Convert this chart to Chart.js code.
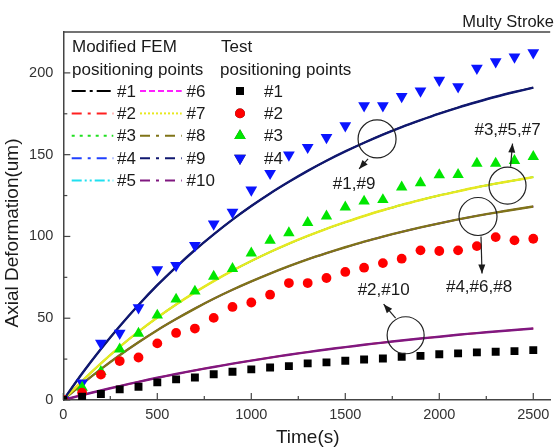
<!DOCTYPE html>
<html><head><meta charset="utf-8">
<script src="https://cdn.jsdelivr.net/npm/chart.js@4.4.0/dist/chart.umd.min.js"></script>
<style>html,body{margin:0;padding:0;background:#fff;}</style>
</head><body>
<canvas id="c" width="557" height="448"></canvas>
<script>
// ---- data ----
const times = [0,100,200,300,400,500,600,700,800,900,1000,1100,1200,1300,1400,1500,1600,1700,1800,1900,2000,2100,2200,2300,2400,2500];
const test1 = [0,2.0,3.7,6.5,8.1,10.8,12.6,13.8,15.7,17.3,18.7,19.9,20.7,22.4,23.0,24.0,24.8,25.4,26.4,27.0,28.0,28.5,29.1,29.5,29.9,30.5];
const test2 = [0,4.5,15.5,23.8,26.0,34.6,41.0,43.7,50.2,56.9,59.6,64.4,71.5,71.5,74.6,78.3,80.9,83.7,86.4,91.5,91.1,91.5,94.1,99.6,97.6,98.6];
const test3 = [0,7.7,17.3,31.1,40.7,51.8,61.6,66.5,75.6,80.3,89.8,97.6,102.2,108.4,112.4,117.9,121.5,122.4,130.1,132.7,137.6,137.8,144.7,144.7,146.3,148.8];
const test4 = [0,10.5,34.8,40.8,56.5,79.7,82.3,94.5,107.7,114.8,128.5,138.6,149.8,154.5,160.6,167.7,179.9,179.9,185.6,189.0,195.5,191.6,202.9,206.9,209.8,212.4];
// FEM curves (overlapping groups)
const femA = [0,16.2,31.2,45.1,58.1,70.2,81.3,91.7,101.3,110.3,118.6,126.3,133.4,140.1,146.3,152.0,157.3,162.3,166.9,171.1,175.1,178.8,182.2,185.4,188.3,191.0]; // #1,#9
const femB = [0,3.0,5.8,8.5,11.1,13.6,15.9,18.1,20.2,22.2,24.1,25.9,27.7,29.3,30.9,32.3,33.8,35.1,36.4,37.6,38.7,39.9,40.9,41.9,42.8,43.7]; // #2,#10
const femC = [0,11.6,22.4,32.5,41.8,50.4,58.4,65.8,72.7,79.1,85.0,90.5,95.6,100.3,104.7,108.7,112.5,116.0,119.3,122.3,125.1,127.6,130.1,132.3,134.3,136.3]; // #3,#5,#7
const femD = [0,9.8,18.9,27.4,35.3,42.7,49.5,55.9,61.9,67.4,72.5,77.3,81.8,86.0,89.8,93.4,96.8,99.9,102.8,105.5,108.0,110.4,112.6,114.6,116.5,118.3]; // #4,#6,#8
const xTicks = [0,500,1000,1500,2000,2500];
const xMinor = [250,750,1250,1750,2250];
const yTicks = [0,50,100,150,200];
const yMinor = [25,75,125,175];
const femNames = ['#1','#2','#3','#4','#5','#6','#7','#8','#9','#10'];
const femColors = ['#000000','#ff2020','#20e020','#2040ff','#20e0f0','#ff20ff','#e8e820','#807418','#101870','#801880'];
const femDash = [[14,4,3,4],[10,6,3,6],[3,5],[10,6,3,6],[10,3,2,3,2,3],[6,3],[2,2],[10,6,3,6],[10,6,3,6],[10,6,3,6]];
const femData = [femA,femB,femC,femD,femC,femD,femC,femD,femA,femB];
const testNames = ['#1','#2','#3','#4'];

const pts = arr => times.map((t,i)=>({x:t,y:arr[i]}));

const markers = [
  {label:'T#1',data:pts(test1),pointStyle:'rect',pointRadius:5.6,backgroundColor:'#000',borderColor:'#000',borderWidth:0,showLine:false},
  {label:'T#2',data:pts(test2),pointStyle:'circle',pointRadius:4.9,backgroundColor:'#ff0000',borderColor:'#ff0000',borderWidth:0,showLine:false},
  {label:'T#3',data:pts(test3),pointStyle:'triangle',pointRadius:6.6,backgroundColor:'#00e600',borderColor:'#00e600',borderWidth:0,showLine:false},
  {label:'T#4',data:pts(test4),pointStyle:'triangle',rotation:180,pointRadius:6.8,backgroundColor:'#0a14ff',borderColor:'#0a14ff',borderWidth:0,showLine:false}
];
// visible FEM lines on top: #9,#7,#8,#10 then hidden ones underneath
const femOrder = [8,6,7,9,0,2,4,3,5,1];
const lines = femOrder.map((i,k)=>({label:'F'+femNames[i],data:pts(femData[i]),showLine:true,pointRadius:0,borderColor:femColors[i],borderWidth:k<4?2.4:1.6,tension:0.3,fill:false}));

const M = {xMax:2590,yMax:225};
const FONT='"Liberation Sans", Arial, sans-serif';

const deco = {
  id:'deco',
  afterDraw(chart){
    const ctx=chart.ctx, xs=chart.scales.x, ys=chart.scales.y, a=chart.chartArea;
    ctx.save();
    // frame top
    ctx.strokeStyle='#444'; ctx.lineWidth=1.5;
    ctx.beginPath(); ctx.moveTo(a.left,a.top); ctx.lineTo(a.right,a.top); ctx.stroke();
    // inward ticks
    ctx.lineWidth=1.2;
    const tk=(v,len,axis)=>{ctx.beginPath();
      if(axis==='x'){const p=xs.getPixelForValue(v);ctx.moveTo(p,a.bottom);ctx.lineTo(p,a.bottom-len);}
      else{const p=ys.getPixelForValue(v);ctx.moveTo(a.left,p);ctx.lineTo(a.left+len,p);}
      ctx.stroke();};
    xTicks.forEach(v=>tk(v,7,'x')); xMinor.forEach(v=>tk(v,4,'x'));
    yTicks.forEach(v=>tk(v,7,'y')); yMinor.forEach(v=>tk(v,4,'y'));
    // titles
    ctx.fillStyle='#1a1a1a';
    ctx.font='19px '+FONT;
    ctx.textAlign='center'; ctx.textBaseline='middle';
    ctx.fillText('Time(s)',(a.left+a.right)/2+1,438);
    ctx.save(); ctx.translate(13,233); ctx.rotate(-Math.PI/2); ctx.fillText('Axial Deformation(um)',0,0); ctx.restore();
    ctx.font='16.5px '+FONT;
    ctx.textAlign='right'; ctx.textBaseline='alphabetic';
    ctx.fillText('Multy Stroke',554,27);
    // legend
    ctx.font='17px '+FONT;
    ctx.textAlign='left'; ctx.textBaseline='alphabetic';
    ctx.fillText('Modified FEM',72,52); ctx.fillText('Test',221,52);
    ctx.fillText('positioning points',72,75); ctx.fillText('positioning points',220,75);
    ctx.textBaseline='middle';
    const rowY=r=>91+r*22.4;
    for(let i=0;i<10;i++){
      const col=i<5?0:1, r=i%5, y=rowY(r);
      const x0=col?140:71.7, x1=col?181.7:113.3, tx=col?186.5:117;
      ctx.save(); ctx.strokeStyle=femColors[i]; ctx.lineWidth=2; ctx.setLineDash(femDash[i]);
      ctx.beginPath(); ctx.moveTo(x0,y); ctx.lineTo(x1,y); ctx.stroke(); ctx.restore();
      ctx.fillStyle='#1a1a1a'; ctx.fillText(femNames[i],tx,y+1);
    }
    for(let i=0;i<4;i++){
      const y=rowY(i), ds=markers[i];
      Chart.helpers.drawPoint(ctx,{pointStyle:ds.pointStyle,rotation:ds.rotation||0,radius:ds.pointRadius,borderWidth:0},240,y);
      ctx.fillStyle=ds.backgroundColor; ctx.fill();
      ctx.fillStyle='#1a1a1a'; ctx.fillText(testNames[i],264,y+1);
    }
    // annotations: circle center in data coords, arrow & label in pixel offsets
    const notes=[
      {t:1669,v:159.6,r:19,a0:[-9,20],a1:[-18,30],txt:'#1,#9',tp:[-23,45]},
      {t:2363,v:131.1,r:18.5,a0:[3,-19],a1:[5,-42],txt:'#3,#5,#7',tp:[0,-55]},
      {t:2206,v:112.2,r:19,a0:[3,20],a1:[4,57],txt:'#4,#6,#8',tp:[1,71]},
      {t:1821,v:39.6,r:18.5,a0:[-10,-17],a1:[-22,-31],txt:'#2,#10',tp:[-22,-45]}
    ];
    ctx.strokeStyle='#222'; ctx.fillStyle='#1a1a1a'; ctx.lineWidth=1.2;
    ctx.font='17px '+FONT; ctx.textAlign='center';
    notes.forEach(n=>{
      const cx=xs.getPixelForValue(n.t), cy=ys.getPixelForValue(n.v);
      ctx.beginPath(); ctx.arc(cx,cy,n.r,0,Math.PI*2); ctx.stroke();
      const sx=cx+n.a0[0], sy=cy+n.a0[1], ex=cx+n.a1[0], ey=cy+n.a1[1];
      ctx.beginPath(); ctx.moveTo(sx,sy); ctx.lineTo(ex,ey); ctx.stroke();
      const ang=Math.atan2(ey-sy,ex-sx), L=9, W=3.5;
      ctx.beginPath(); ctx.moveTo(ex,ey);
      ctx.lineTo(ex-L*Math.cos(ang)+W*Math.sin(ang), ey-L*Math.sin(ang)-W*Math.cos(ang));
      ctx.lineTo(ex-L*Math.cos(ang)-W*Math.sin(ang), ey-L*Math.sin(ang)+W*Math.cos(ang));
      ctx.closePath(); ctx.fill();
      ctx.fillText(n.txt,cx+n.tp[0],cy+n.tp[1]);
    });
    ctx.restore();
  }
};

new Chart(document.getElementById('c'),{
  type:'scatter',
  data:{datasets:[...markers,...lines]},
  options:{
    responsive:false, animation:false, devicePixelRatio:1,
    layout:{padding:{top:32,right:0,left:0,bottom:0}},
    plugins:{legend:{display:false},tooltip:{enabled:false}},
    scales:{
      x:{type:'linear',min:0,max:M.xMax,
        afterBuildTicks:s=>{s.ticks=xTicks.map(v=>({value:v}));},
        afterFit:s=>{s.height=48;},
        grid:{display:false,drawTicks:false},
        border:{display:true,color:'#444',width:1.5},
        ticks:{font:{size:14.5,family:FONT},color:'#333',padding:6,maxRotation:0,callback:v=>String(v)}},
      y:{type:'linear',min:0,max:M.yMax,
        afterBuildTicks:s=>{s.ticks=yTicks.map(v=>({value:v}));},
        afterFit:s=>{s.width=63.3;},
        grid:{display:false,drawTicks:false},
        border:{display:true,color:'#444',width:1.5},
        ticks:{font:{size:14.5,family:FONT},color:'#333',padding:10,callback:v=>String(v)}}
    }
  },
  plugins:[deco]
});
</script>
</body></html>
